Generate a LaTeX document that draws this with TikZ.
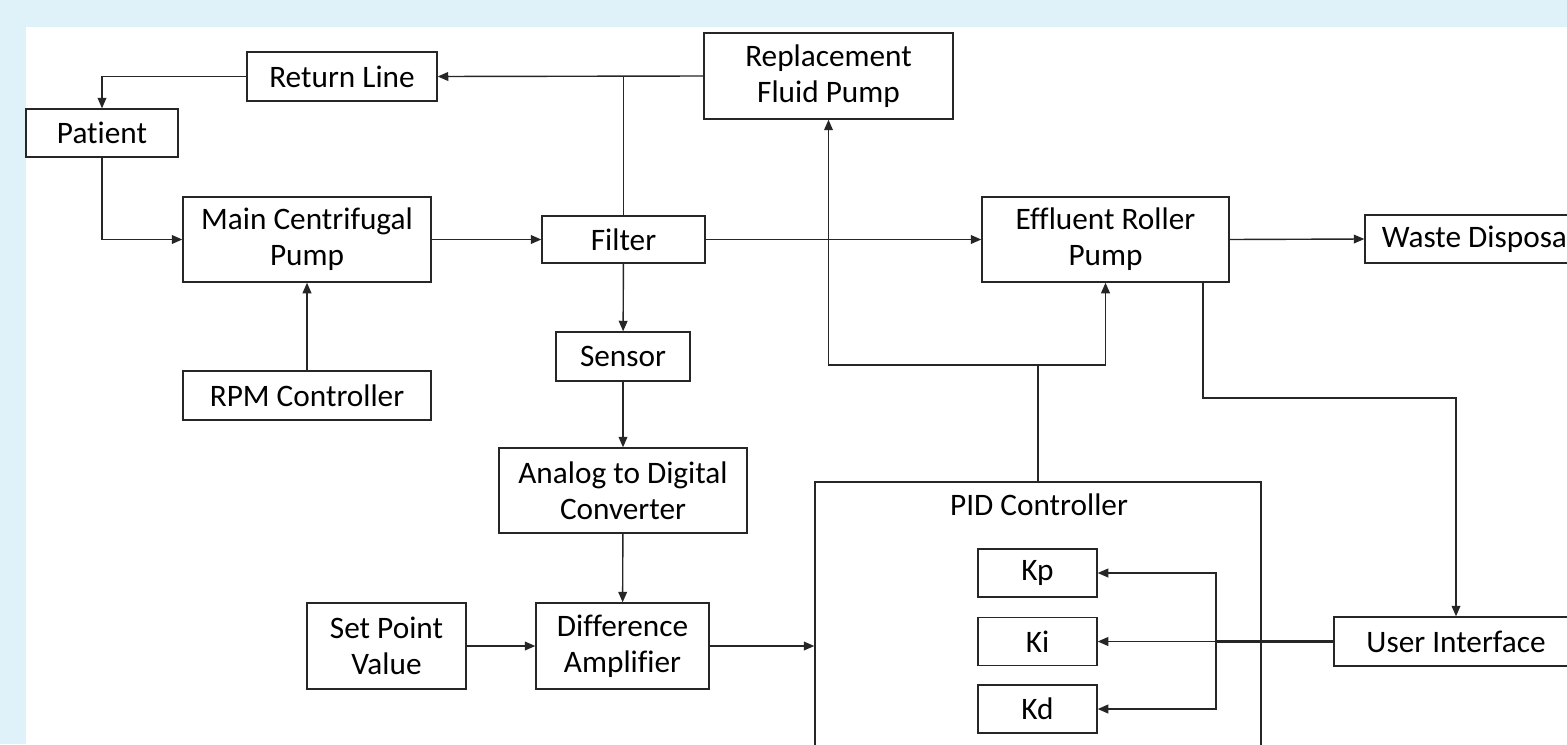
\documentclass[tikz,border=0pt]{standalone}
\usepackage{fontspec}
\setmainfont{Carlito}[Ligatures=NoCommon]
\usetikzlibrary{arrows.meta}
\definecolor{pagebg}{RGB}{223,242,249}
\tikzset{
    blk/.style 2 args={draw=black!85, line width=0.8pt, fill=white, inner sep=0pt, align=center,
        minimum width=#1*0.02cm, minimum height=#2*0.02cm},
    arr/.style={draw=black!85, line width=0.8pt, -{Triangle[length=6pt,width=5pt]}},
    wire/.style={draw=black!85, line width=0.8pt}
}

\begin{document}
\begin{tikzpicture}[x=0.02cm, y=-0.02cm, font=\fontsize{17.8}{20.5}\selectfont]
        \useasboundingbox (0,0) rectangle (1567,744);
        \clip (0,0) rectangle (1567,744);
        % page
        \fill[pagebg] (0,0) rectangle (1567,744);
        \fill[white] (26,27) rectangle (1567,744);

        % blood circuit
        \node[blk={190}{49}] (retline) at (342,76.5) {Return Line};
        \node[blk={152}{48}] (patient) at (102,133) {Patient};
        \node[blk={248}{85}] (mainpump) at (307,239.5) {Main Centrifugal\\Pump};
        \node[blk={163}{47}] (filter) at (623.5,239.5) {Filter};
        \node[blk={249}{86}] (replpump) at (828.5,76) {Replacement\\Fluid Pump};
        \node[blk={247}{85}] (effpump) at (1105.5,239.5) {Effluent Roller\\Pump};
        \node[blk={226}{48}] (waste) at (1478,239) {Waste Disposal};
        \node[blk={248}{49}] (rpm) at (307,395.5) {RPM Controller};

        % measuring chain
        \node[blk={134}{49}] (sensor) at (623,356.5) {Sensor};
        \node[blk={248}{85}] (adc) at (623,490.5) {Analog to Digital\\Converter};
        \node[blk={159}{86}] (setpt) at (386.5,646) {Set Point\\Value};
        \node[blk={173}{86}] (diffamp) at (622.5,646) {Difference\\Amplifier};

        % controller
        \node[blk={446}{316}] (pid) at (1038,640) {};
        \node (pidname) at (1039,505) {PID Controller};
        \foreach \k/\y in {p/573,i/641.5,d/709}{
          \node[blk={119}{48}] (k\k) at (1037.5,\y) {K\k};
          }
        \node[blk={244}{49}] (ui) at (1456,641.5) {User Interface};

        \coordinate (fb) at (1038,365);
        \coordinate (eout) at (1203,398);
        \coordinate (kbus) at (1216,641.5);

        \draw[arr] (retline.west) -| (patient.north);
        \draw[arr] (patient.south) |- (mainpump.west);
        \draw[arr] (mainpump) -- (filter);
        \draw[arr] (replpump.west) -- (retline.east);
        \draw[wire] (filter.north) -- (filter.north |- replpump.west);
        \draw[arr] (filter) -- (effpump);
        \draw[arr] (effpump.east) -- (waste.west);
        \draw[arr] (rpm) -- (mainpump);
        \draw[arr] (filter) -- (sensor);
        \draw[arr] (sensor) -- (adc);
        \draw[arr] (adc) -- (diffamp);
        \draw[arr] (setpt) -- (diffamp);
        \draw[arr] (diffamp.east) -- (diffamp.east -| pid.west);
        % gains back to the pumps
        \draw[wire] (pid.north) -- (fb);
        \draw[arr] (fb) -| (replpump.south);
        \draw[arr] (fb) -| (effpump.south);
        \draw[arr] (effpump.south -| eout) -- (eout) -| (ui.north);
        % tuning
        \draw[wire, line width=1.5pt] (ui.west) -- (kbus);
        \draw[arr] (kbus) -- (ki.east);
        \draw[arr] (kbus) |- (kp.east);
        \draw[arr] (kbus) |- (kd.east);
    \end{tikzpicture}
\end{document}
